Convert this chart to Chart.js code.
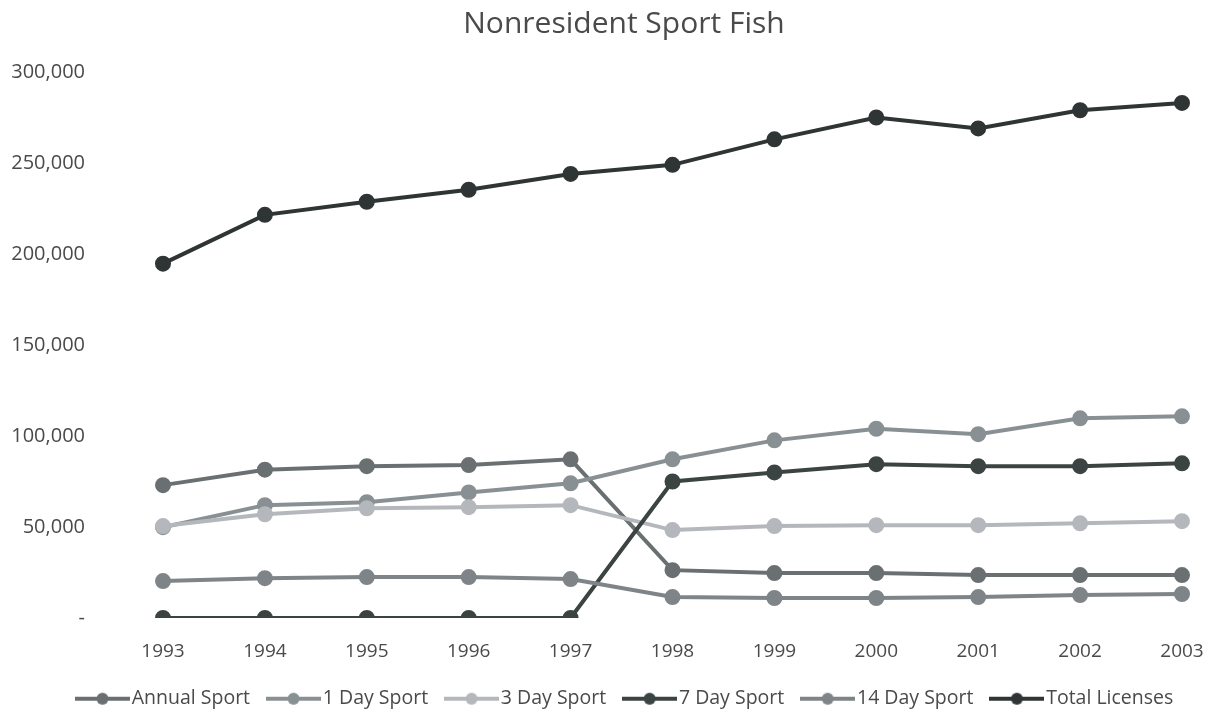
<!DOCTYPE html>
<html>
<head>
<meta charset="utf-8">
<script src="https://cdn.jsdelivr.net/npm/chart.js@4"></script>
<style>
  html, body { margin: 0; padding: 0; background: #ffffff; }
  #wrap { width: 1227px; height: 713px; }
</style>
</head>
<body>
<div id="wrap"><canvas id="chart"></canvas></div>
<script>
// categories and series values
const years = ['1993', '1994', '1995', '1996', '1997', '1998', '1999', '2000', '2001', '2002', '2003'];
const annualSport = [73000, 81500, 83400, 84000, 87200, 26300, 24700, 24700, 23600, 23600, 23600];
const oneDaySport = [49900, 62000, 63600, 69000, 74000, 87200, 97600, 104000, 101000, 109700, 110800];
const threeDaySport = [50500, 57000, 60300, 60900, 62000, 48300, 50500, 51000, 51000, 52000, 53200];
const sevenDaySport = [0, 0, 0, 0, 0, 75000, 80000, 84500, 83400, 83400, 85000];
const fourteenDaySport = [20300, 21900, 22500, 22500, 21400, 11500, 11000, 11000, 11500, 12600, 13200];
const totalLicenses = [194700, 221500, 228700, 235300, 244000, 249000, 263000, 275000, 269000, 279000, 283000];

const seriesNames = ['Annual Sport', '1 Day Sport', '3 Day Sport', '7 Day Sport', '14 Day Sport', 'Total Licenses'];
const seriesColors = ['#6a7072', '#899094', '#b4b7bc', '#3b4442', '#7e8487', '#2f3434'];

// legend marker: line with a dot in the middle
function legendMarker(color) {
    const c = document.createElement('canvas');
    c.width = 55;
    c.height = 14;
    const ctx = c.getContext('2d');
    ctx.strokeStyle = color;
    ctx.lineWidth = 4;
    ctx.beginPath();
    ctx.moveTo(0, 7);
    ctx.lineTo(55, 7);
    ctx.stroke();
    ctx.fillStyle = color;
    ctx.beginPath();
    ctx.arc(27.5, 7, 6, 0, Math.PI * 2);
    ctx.fill();
    return c;
}

const values = [annualSport, oneDaySport, threeDaySport, sevenDaySport, fourteenDaySport, totalLicenses];

const datasets = values.map((data, i) => ({
    label: seriesNames[i],
    data: data,
    borderColor: seriesColors[i],
    backgroundColor: seriesColors[i],
    pointBackgroundColor: seriesColors[i],
    pointBorderColor: seriesColors[i],
    pointRadius: 6,
    pointHoverRadius: 6,
    borderWidth: 4,
    pointStyle: 'circle',
    legendStyle: legendMarker(seriesColors[i]),
    tension: 0,
    order: values.length - i
}));

const textColor = '#4a4a4a';
const fontFamily = '"Open Sans", sans-serif';

// one legend row of fixed height; title and legend placed like the original
const layoutTweaks = {
    id: 'layoutTweaks',
    beforeLayout(chart) {
        const lg = chart.legend;
        if (lg && !lg._fixed) {
            const fit = lg.fit;
            lg.fit = function () {
                this.maxWidth = 2000; // keep all six items on one row
                fit.call(this);
                this.height = 48;
            };
            lg._fixed = true;
        }
    },
    afterLayout(chart) {
        chart.titleBlock.left = 21;
        chart.titleBlock.right = 1227;
        chart.legend.left = 59;
        chart.legend.right = 1400; // no wrapping when drawing either
    }
};

new Chart(document.getElementById('chart'), {
    type: 'line',
    data: {
        labels: years,
        datasets: datasets
    },
    plugins: [layoutTweaks],
    options: {
        responsive: true,
        maintainAspectRatio: false,
        animation: false,
        layout: {
            autoPadding: false,
            padding: { left: 10, right: 45, top: 0, bottom: 0 }
        },
        scales: {
            x: {
                offset: false,
                grid: { display: false },
                border: { display: false },
                afterFit: scale => { scale.height = 47; },
                ticks: {
                    color: textColor,
                    font: { family: fontFamily, size: 19 },
                    padding: 14,
                    maxRotation: 0
                }
            },
            y: {
                min: 0,
                max: 300000,
                grid: { display: false },
                border: { display: false },
                afterFit: scale => {
                    scale.width = 153;
                    scale.paddingTop = 0;
                    scale.paddingBottom = 0;
                },
                ticks: {
                    stepSize: 50000,
                    color: textColor,
                    padding: 70,
                    font: { family: fontFamily, size: 20 },
                    callback: v => v === 0 ? '-' : v.toLocaleString('en-US')
                }
            }
        },
        plugins: {
            title: {
                display: true,
                text: 'Nonresident Sport Fish',
                color: textColor,
                font: { family: fontFamily, size: 30, weight: 'normal' },
                padding: { top: 6, bottom: 30 }
            },
            legend: {
                position: 'bottom',
                align: 'start',
                labels: {
                    color: textColor,
                    font: { family: fontFamily, size: 19.5 },
                    usePointStyle: true,
                    pointStyleWidth: 39,
                    boxHeight: 14,
                    padding: 24,
                    generateLabels: chart => chart.data.datasets.map((ds, i) => ({
                        text: ds.label,
                        fillStyle: ds.borderColor,
                        strokeStyle: ds.borderColor,
                        fontColor: textColor,
                        lineWidth: 0,
                        pointStyle: ds.legendStyle,
                        hidden: !chart.isDatasetVisible(i),
                        datasetIndex: i
                    }))
                }
            },
            tooltip: { enabled: false }
        }
    }
});
</script>
</body>
</html>
